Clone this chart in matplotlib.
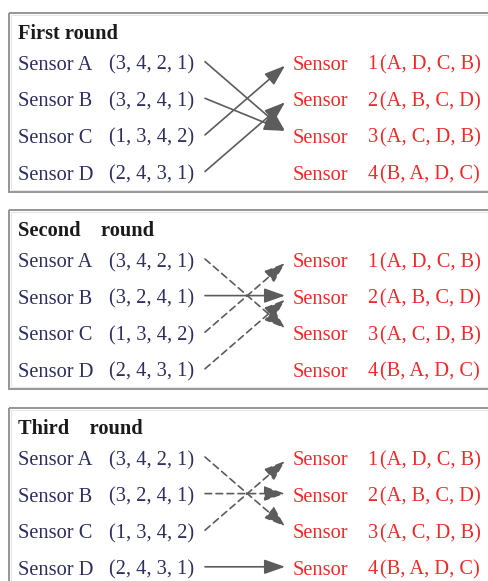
import matplotlib
matplotlib.use("Agg")
import matplotlib.pyplot as plt
from matplotlib.patches import Rectangle

# ---- data ----
round_titles = ["First round", "Second    round", "Third    round"]
left_names = ["Sensor A", "Sensor B", "Sensor C", "Sensor D"]
left_prefs = ["(3, 4, 2, 1)", "(3, 2, 4, 1)", "(1, 3, 4, 2)", "(2, 4, 3, 1)"]
right_names = ["Sensor", "Sensor", "Sensor", "Sensor"]
right_prefs = ["1\u200a(A, D, C, B)", "2\u200a(A, B, C, D)", "3\u200a(A, C, D, B)", "4\u200a(B, A, D, C)"]
# proposals per round: target index (0-based) for A, B, C, D
round_targets = [
    [2, 2, 0, 1],
    [2, 1, 0, 1],
    [2, 1, 0, 3],
]
# True = solid (accepted/held), False = dashed
round_solid = [
    [True, True, True, True],
    [False, True, False, False],
    [False, False, False, True],
]

W, H = 489, 581
fig = plt.figure(figsize=(W / 100, H / 100), dpi=100)
ax = fig.add_axes([0, 0, 1, 1])
ax.set_xlim(0, W)
ax.set_ylim(H, 0)
ax.axis("off")

serif = ["Liberation Serif", "DejaVu Serif"]
navy = "#2c2f5f"
red = "#ee2a2a"
gray = "#5c5c5c"
fs = 14.7

box_tops = [12.7, 210, 408]
box_h = 179
row_gap = 36.6

for b, top in enumerate(box_tops):
    # box with faint inner shadow
    ax.add_patch(Rectangle((8.5, top), 500, box_h, fill=False,
                           edgecolor="#8c8c8c", lw=1.3, zorder=1))
    ax.add_patch(Rectangle((10.5, top + 2), 500, box_h - 4, fill=False,
                           edgecolor="#e6e6e6", lw=0.8, zorder=1))
    ax.text(18.5, top + 19 + 7, round_titles[b], family=serif, fontsize=fs,
            fontweight="bold", color="#1a1a1a", va="baseline", ha="left")
    rows = [top + 50 + i * row_gap for i in range(4)]
    for i in range(4):
        y = rows[i]
        ax.text(18, y + 7, left_names[i], family=serif, fontsize=fs,
                color=navy, va="baseline", ha="left")
        ax.text(109, y + 7, left_prefs[i], family=serif, fontsize=fs,
                color=navy, va="baseline", ha="left")
        ax.text(293, y + 7, right_names[i], family=serif, fontsize=fs,
                color=red, va="baseline", ha="left")
        ax.text(368, y + 7, right_prefs[i], family=serif, fontsize=fs,
                color=red, va="baseline", ha="left")
    for i in range(4):
        t = round_targets[b][i]
        solid = round_solid[b][i]
        y0 = rows[i] - 1
        y1 = rows[t] - 1
        if t != i:
            y1 += 4 * (1 if i > t else -1)
        ls = "-" if solid else (0, (4, 2.6))
        ax.annotate("", xy=(285, y1), xytext=(205, y0),
                    arrowprops=dict(arrowstyle="-|>,head_length=0.85,head_width=0.3",
                                    mutation_scale=15, color=gray, lw=1.2,
                                    linestyle=ls, shrinkA=0, shrinkB=0),
                    zorder=3)

fig.savefig("out.png", dpi=100, facecolor="white")
